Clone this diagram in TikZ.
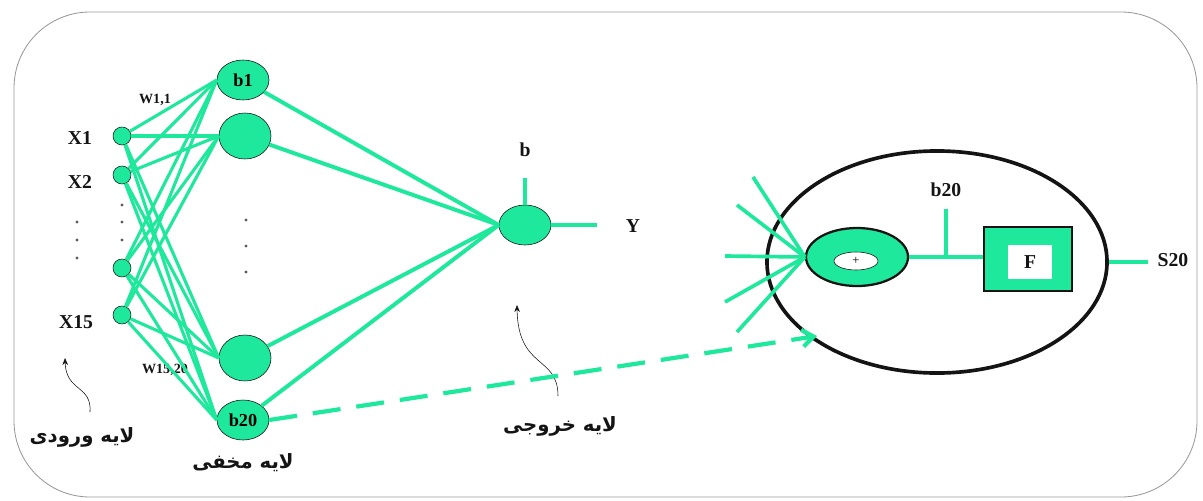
\documentclass[tikz,border=0pt]{standalone}
\usepackage{fontspec}
\setmainfont{Liberation Serif}
\newfontfamily\persianfont[Script=Arabic]{DejaVu Sans}
\usetikzlibrary{arrows.meta, positioning, shapes.geometric}
\TeXXeTstate=1
\definecolor{netGreen}{RGB}{30,232,155}
\definecolor{netInk}{RGB}{20,20,20}

\begin{document}
\begin{tikzpicture}[x=0.025cm, y=-0.025cm,
    inputnode/.style={circle, draw=netInk, fill=netGreen, thin, minimum size=0.45cm, inner sep=0pt},
    neuron/.style={ellipse, draw=netInk, fill=netGreen, thin, minimum width=1.3cm, minimum height=1.0cm,
      inner sep=0pt, font=\fontsize{13}{15}\selectfont\bfseries},
    lbl/.style={font=\fontsize{14}{16}\selectfont\bfseries, text=netInk, inner sep=1pt},
    wlbl/.style={font=\fontsize{10}{12}\selectfont\bfseries, text=netInk, inner sep=1pt},
    layerlbl/.style={font=\fontsize{14}{16}\selectfont\persianfont\bfseries, text=netInk, inner sep=1pt},
    link/.style={draw=netGreen, line width=2.2pt},
    dot/.style={circle, fill=netInk!70, inner sep=0pt, minimum size=2.2pt},
    pointer/.style={-{Stealth[length=5pt, width=4pt]}, thin, draw=netInk}
  ]
  \useasboundingbox (0,0) rectangle (1203,500);
  \draw[draw=gray!80, semithick, rounded corners=1.9cm] (14,12) rectangle (1197,497);

  % input layer
  \node[inputnode] (in0) at (122,136) {};
  \node[inputnode] (in1) at (122,175) {};
  \node[inputnode] (in2) at (122,268) {};
  \node[inputnode] (in3) at (122,315) {};
  \node[lbl] (x1) at (80,138) {X1};
  \node[lbl] (x2) at (80,182) {X2};
  \node[lbl] (x15) at (76,322) {X15};
  \foreach \y in {205,222,240} {
    \node[dot] at (122,\y) {};
  }
  \foreach \y in {222,240,258} {
    \node[dot] at (77,\y) {};
  }

  % hidden layer
  \node[neuron] (h0) at (243,80) {b1};
  \node[neuron, minimum height=1.15cm] (h1) at (245,136) {};
  \node[neuron, minimum height=1.15cm] (h2) at (245,358) {};
  \node[neuron] (h3) at (243,420) {b20};
  \foreach \y in {220,246,272} {
    \node[dot] at (246,\y) {};
  }
  \node[wlbl] (w11) at (155,100) {W1,1};
  \node[wlbl] (w1520) at (165,370) {W15,20};

  % output layer
  \node[neuron] (out) at (525,225) {};
  \coordinate (bTop) at (525,178);
  \coordinate (yEnd) at (597,225);
  \node[lbl] (bLbl) at (525,150) {b};
  \node[lbl] (yLbl) at (633,226) {Y};

  \foreach \i in {0,...,3} {
    \foreach \j in {0,...,3} {
      \draw[link] (in\i) -- (h\j.west);
    }
  }
  \foreach \j in {0,...,3} {
    \draw[link, line width=2.8pt] (h\j) -- (out.west);
  }
  \draw[link, line width=2.8pt] (out) -- (bTop);
  \draw[link, line width=2.8pt] (out) -- (yEnd);

  % layer names
  \node[layerlbl] (inName) at (82,437) {\beginR لایه ورودی\endR};
  \node[layerlbl] (hidName) at (243,463) {\beginR لایه مخفی\endR};
  \node[layerlbl] (outName) at (560,426) {\beginR لایه خروجی\endR};
  \coordinate (inTip) at (65,358);
  \coordinate (outTip) at (517,305);
  \draw[pointer] (90,412) .. controls (92,385) and (66,392) .. (inTip);
  \draw[pointer] (558,396) .. controls (558,355) and (518,370) .. (outTip);

  % zoom on neuron 20
  \node[ellipse, draw=netInk, line width=2.6pt, minimum width=8.5cm, minimum height=5.55cm] (cell) at (937,262) {};
  \node[ellipse, draw=netInk, fill=netGreen, line width=1.6pt, minimum width=2.55cm, minimum height=1.45cm] (sum) at (857,257) {};
  \node[ellipse, draw=netInk, fill=white, thin, minimum width=1.1cm, minimum height=0.45cm, inner sep=0pt,
    font=\small] (plus) at (856,261) {+};
  \node[rectangle, draw=netInk, fill=netGreen, line width=1.6pt, minimum width=2.2cm, minimum height=1.6cm] (act) at (1028,259) {};
  \node[rectangle, fill=white, minimum width=1.1cm, minimum height=0.85cm, lbl] (fLbl) at (1030,262) {F};
  \coordinate (biasTop) at (946,209);
  \coordinate (biasFoot) at (946,257);
  \node[lbl] (b20Lbl) at (946,190) {b20};
  \coordinate (sOut) at (1148,262);
  \node[lbl] (s20Lbl) at (1173,260) {S20};
  \draw[link, line width=2.4pt] (sum.east) -- (sum.east -| act.west);
  \draw[link, line width=2.4pt] (biasTop) -- (biasFoot);
  \draw[link, line width=2.4pt] (cell.east) -- (sOut);
  \foreach \p in {(753,177),(737,205),(725,256),(725,302),(737,332)} {
    \draw[link, line width=2.6pt] \p -- (sum.west);
  }

  \coordinate (dashEnd) at (817,336);
  \draw[link, line width=3pt, dash pattern=on 0.7cm off 0.4cm, -{Straight Barb[length=8pt, width=12pt]}] (h3.east) -- (dashEnd);
\end{tikzpicture}
\end{document}
